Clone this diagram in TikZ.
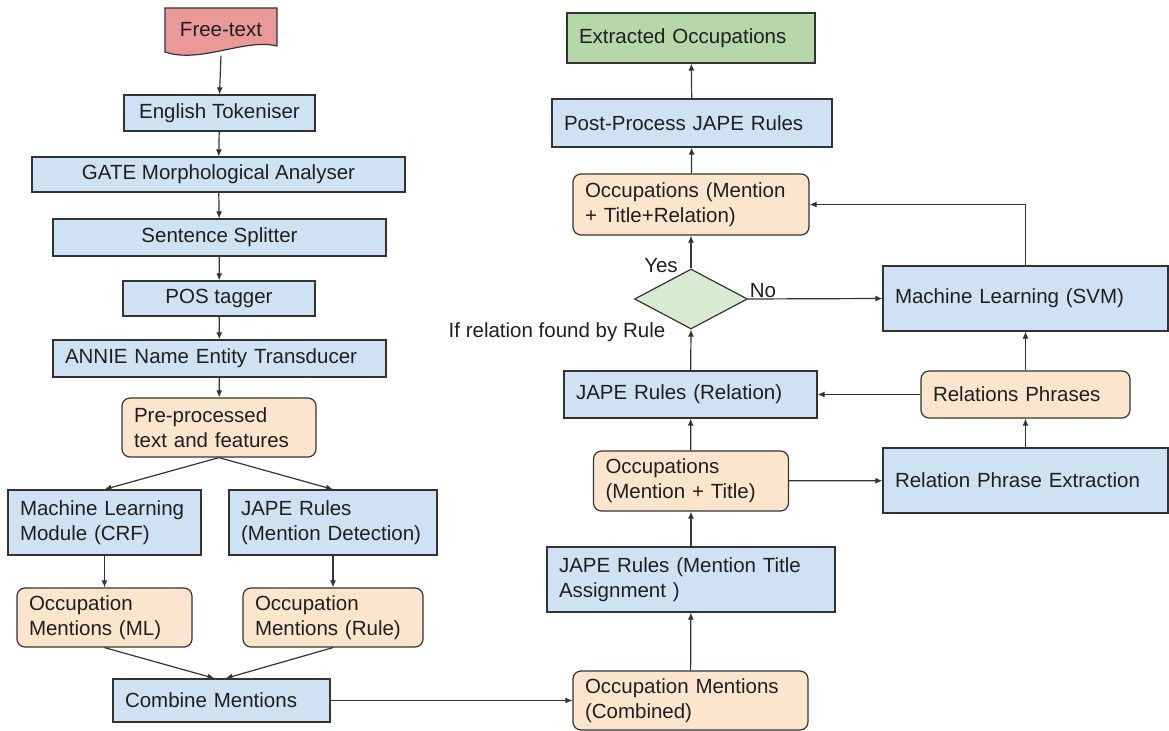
\documentclass[tikz,border=0pt]{standalone}
\usepackage{fontspec}
\setmainfont{Liberation Sans}
\usetikzlibrary{arrows.meta, shapes.geometric, calc}
\definecolor{cblue}{HTML}{CFE2F3}
\definecolor{corange}{HTML}{FCE5CD}
\definecolor{cgreen}{HTML}{B6D7A8}
\definecolor{cpale}{HTML}{D9EAD3}
\definecolor{cred}{HTML}{EA9999}
\definecolor{cline}{HTML}{333333}
\definecolor{ctext}{HTML}{1F1F1F}
\tikzset{
  every picture/.style={line width=0.6pt},
  sz/.style 2 args={minimum width=#1*0.5pt, minimum height=#2*0.5pt, text width=#1*0.5pt-12pt},
  csz/.style 2 args={minimum width=#1*0.5pt, minimum height=#2*0.5pt},
  box/.style={draw=cline, fill=#1, inner sep=0pt, align=left, text=ctext},
  box/.default=cblue,
  rbox/.style={box=corange, rounded corners=4pt},
  arrow/.style={-{Latex[length=3.5pt, width=3pt]}, draw=cline, line width=0.6pt},
  lbl/.style={inner sep=0pt, text=ctext},
}

\begin{document}
\begin{tikzpicture}[x=0.5pt, y=-0.5pt, font=\fontsize{10.25}{12.5}\selectfont]
  \useasboundingbox (0,0) rectangle (1169,731);
  % left column: GATE pipeline
  \draw[draw=cline, fill=cred] (165,8) -- (277,8) -- (277,46) .. controls (245,38) and (200,64) .. (165,52) -- cycle;
  \node[lbl, minimum width=56pt, minimum height=25pt] (free) at (221,30) {Free-text};
  \node[box, csz={191}{36}] (eng) at (219.5,113) {English Tokeniser};
  \node[box, csz={373}{35}] (gate) at (218.5,174.5) {GATE Morphological Analyser};
  \node[box, csz={333}{37}] (split) at (219.5,237.5) {Sentence Splitter};
  \node[box, csz={192}{35}] (pos) at (219,298.5) {POS tagger};
  \node[box, sz={333}{37}] (annie) at (219.5,358.5) {ANNIE Name Entity Transducer};
  \node[rbox, sz={194}{59}] (pre) at (219,427.5) {Pre-processed\\text and features};
  \node[box, sz={193}{65}] (crf) at (104.5,522.5) {Machine Learning\\Module (CRF)};
  \node[box, sz={208}{65}] (jmd) at (333,522.5) {JAPE Rules\\(Mention Detection)};
  \node[rbox, sz={175}{59}] (oml) at (104.5,617.5) {Occupation\\Mentions (ML)};
  \node[rbox, sz={180}{59}] (orule) at (333,617.5) {Occupation\\Mentions (Rule)};
  \node[box, sz={217}{43}] (comb) at (221.5,700.5) {Combine Mentions};

  % right column: titles and relations
  \node[rbox, sz={235}{59}] (occ) at (690.5,700.5) {Occupation Mentions\\(Combined)};
  \node[box, sz={288}{65}] (jmta) at (691,579.5) {JAPE Rules (Mention Title\\Assignment )};
  \node[rbox, sz={195}{60}] (omt) at (691,481) {Occupations\\(Mention + Title)};
  \node[box, sz={285}{65}] (rpe) at (1025.5,480.5) {Relation Phrase Extraction};
  \node[box, sz={253}{47}] (jrel) at (690.5,394.5) {JAPE Rules (Relation)};
  \node[rbox, sz={209}{47}] (rphr) at (1025.5,394.5) {Relations Phrases};
  \node[box, sz={285}{65}] (svm) at (1025.5,298.5) {Machine Learning (SVM)};
  \node[draw=cline, fill=cpale, diamond, inner sep=0pt, minimum width=56.5pt, minimum height=30pt] (dec) at (691,299) {};
  \node[rbox, sz={236}{61}] (omtr) at (691,204.5) {Occupations (Mention\\+ Title+Relation)};
  \node[box, sz={280}{48}] (post) at (692,123) {Post-Process JAPE Rules};
  \node[box=cgreen, sz={248}{50}] (extr) at (691,38) {Extracted Occupations};
  \node[lbl] (yes) at (661,266) {Yes};
  \node[lbl] (no) at (763,291) {No};
  \node[lbl] (cond) at (557,332) {If relation found by Rule};

  \draw[arrow] (free.south) -- (eng.north); \draw[arrow] (eng) -- (gate); \draw[arrow] (gate) -- (split);
  \draw[arrow] (split) -- (pos); \draw[arrow] (pos) -- (annie); \draw[arrow] (annie) -- (pre);
  \draw[arrow] (pre.south) -- (crf.north); \draw[arrow] (pre.south) -- (jmd.north);
  \draw[arrow] (crf) -- (oml); \draw[arrow] (jmd) -- (orule);
  \draw[arrow] (oml.south) -- ($(comb.north)+(-7,0)$); \draw[arrow] (orule.south) -- ($(comb.north)+(4,0)$);
  \draw[arrow] (comb) -- (occ);
  \draw[arrow] (occ) -- (jmta); \draw[arrow] (jmta) -- (omt); \draw[arrow] (omt) -- (jrel);
  \draw[arrow] (omt) -- (rpe); \draw[arrow] (rpe) -- (rphr); \draw[arrow] (rphr) -- (svm); \draw[arrow] (rphr) -- (jrel);
  \draw[arrow] (jrel) -- (dec.south); \draw[arrow] (dec.east) -- (svm.west);
  \draw[arrow] (dec.north) -- (omtr.south); \draw[arrow] (svm.north) |- (omtr.east);
  \draw[arrow] (omtr) -- (post); \draw[arrow] (post) -- (extr);
\end{tikzpicture}
\end{document}
